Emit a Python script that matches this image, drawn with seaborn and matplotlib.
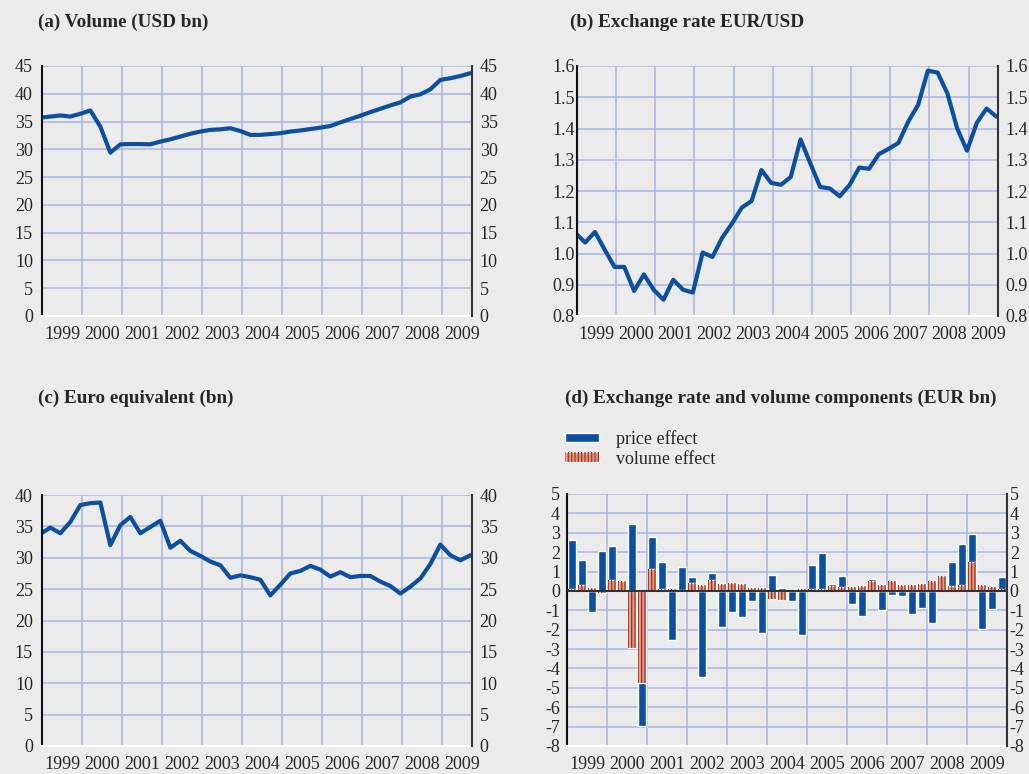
#!/usr/bin/env python3
import numpy as np
import pandas as pd
import seaborn as sns
import matplotlib
matplotlib.use("Agg")
import matplotlib.pyplot as plt
from matplotlib.patches import Patch
from matplotlib.legend_handler import HandlerTuple
from matplotlib.ticker import FixedLocator, FixedFormatter, NullFormatter, FormatStrFormatter

# line panels: one value per quarter (plotted mid of the quarter's last month),
# plus the Dec 1998 value the line starts from
LINE_MONTHS = ["1998-12"] + [f"{y}-{m:02d}" for y in range(1999, 2010) for m in (3, 6, 9, 12)][:43]

VOLUME_USD = [
    35.7, 35.9, 36.1, 35.9, 36.4, 37.0, 34.1, 29.4, 30.9, 30.95, 30.95,
    30.9, 31.4, 31.8, 32.3, 32.8, 33.2, 33.5, 33.6, 33.8, 33.3, 32.6,
    32.6, 32.75, 32.9, 33.2, 33.4, 33.65, 33.9, 34.2, 34.85, 35.45, 36.05,
    36.7, 37.3, 37.9, 38.45, 39.5, 39.9, 40.8, 42.5, 42.8, 43.2, 43.7,
]

EURUSD = [
    1.066, 1.035, 1.069, 1.012, 0.957, 0.957, 0.880, 0.933, 0.884, 0.852, 0.916,
    0.884, 0.875, 1.003, 0.989, 1.051, 1.096, 1.147, 1.168, 1.267, 1.226, 1.220,
    1.245, 1.365, 1.288, 1.213, 1.208, 1.183, 1.219, 1.275, 1.271, 1.318, 1.335,
    1.354, 1.422, 1.475, 1.585, 1.579, 1.512, 1.400, 1.329, 1.418, 1.464, 1.438,
]

EURO_EQUIV = [
    33.8, 34.8, 33.9, 35.7, 38.4, 38.7, 38.8, 32.0, 35.2, 36.5, 33.9,
    34.9, 35.9, 31.6, 32.7, 31.1, 30.3, 29.4, 28.8, 26.8, 27.2, 26.9,
    26.5, 24.0, 25.7, 27.5, 27.9, 28.7, 28.1, 27.0, 27.7, 26.9, 27.1,
    27.1, 26.2, 25.5, 24.3, 25.4, 26.7, 29.0, 32.1, 30.4, 29.6, 30.4,
]

# panel (d): quarterly components, 1999Q1 - 2009Q4
BAR_QUARTERS = pd.period_range("1999Q1", "2009Q4", freq="Q")

PRICE_EFFECT = [
    2.55, 1.29, -1.07, 2.05, 1.77, 0.0, 3.45, -2.25, 1.65, 1.4, -2.53,
    1.2, 0.34, -4.42, 0.36, -1.88, -1.1, -1.33, -0.5, -2.15, 0.84, 0.15,
    -0.5, -2.27, 1.22, 1.86, 0.1, 0.59, -0.67, -1.29, 0.09, -1.0, -0.22,
    -0.28, -1.19, -0.88, -1.65, 0.0, 1.24, 2.1, 1.43, -1.97, -0.92, 0.64,
]

VOLUME_EFFECT = [
    0.1, 0.28, 0.17, -0.1, 0.55, 0.53, -2.93, -4.73, 1.12, 0.1, 0.1,
    0.05, 0.4, 0.3, 0.55, 0.38, 0.43, 0.34, 0.15, 0.15, -0.4, -0.45,
    0.02, 0.1, 0.12, 0.12, 0.26, 0.2, 0.2, 0.26, 0.53, 0.3, 0.53,
    0.3, 0.33, 0.36, 0.5, 0.78, 0.26, 0.33, 1.5, 0.3, 0.2, 0.1,
]

YEARS = list(range(1999, 2010))

BG = "#ebebeb"
GRID = "#a9b4e3"
BLUE = "#0d4f9f"
SALMON = "#da9b87"
HATCH_RED = "#b02c1b"
FS = 13
TITLE_FS = 13.8
W, H = 1029, 774


def month_pos(label):
    p = pd.Period(label, freq="M")
    return p.year + (p.month - 0.5) / 12


def quarter_pos(p):
    return p.year + (p.quarter - 0.5) / 4


def style_axis(ax, x_end, ylim, ystep, fmt, lpad, rpad):
    ax.set_xlim(1999, x_end)
    ax.set_ylim(*ylim)
    majors = list(range(1999, int(np.floor(x_end)) + 1))
    ax.xaxis.set_major_locator(FixedLocator(majors))
    ax.xaxis.set_major_formatter(NullFormatter())
    ax.xaxis.set_minor_locator(FixedLocator([y + 0.5 for y in YEARS]))
    ax.xaxis.set_minor_formatter(FixedFormatter([str(y) for y in YEARS]))
    ax.tick_params(axis="x", which="major", length=5, width=1.3, color="#222222", direction="out")
    ax.tick_params(axis="x", which="minor", length=0, pad=7, labelsize=FS)
    yticks = np.arange(ylim[0], ylim[1] + ystep / 2, ystep)
    ax.set_yticks(yticks)
    ax.yaxis.set_major_formatter(FormatStrFormatter(fmt))
    ax.tick_params(axis="y", length=0, pad=lpad, labelsize=FS)
    ax.grid(True, which="major", color=GRID, linewidth=1.1)
    ax.set_axisbelow(True)
    ax.set_xlabel("")
    ax.set_ylabel("")
    for side in ("top", "right"):
        ax.spines[side].set_visible(False)
    ax.spines["left"].set_color("#111111")
    ax.spines["left"].set_linewidth(1.5)
    ax.spines["bottom"].set_color("white")
    ax.spines["bottom"].set_linewidth(1.5)

    ax2 = ax.twinx()
    ax2.set_ylim(*ylim)
    ax2.set_yticks(yticks)
    ax2.yaxis.set_major_formatter(FormatStrFormatter(fmt))
    ax2.tick_params(axis="y", length=0, pad=rpad, labelsize=FS)
    ax2.grid(False)
    for side in ("top", "left", "bottom"):
        ax2.spines[side].set_visible(False)
    ax2.spines["right"].set_color("#333333")
    ax2.spines["right"].set_linewidth(1.5)


def main():
    sns.set_style("whitegrid", {"axes.facecolor": BG, "figure.facecolor": BG})
    plt.rcParams["font.family"] = ["Liberation Serif", "DejaVu Serif"]
    plt.rcParams["axes.unicode_minus"] = False
    plt.rcParams["hatch.linewidth"] = 0.9

    line_x = [month_pos(m) for m in LINE_MONTHS]
    bar_x = [quarter_pos(q) for q in BAR_QUARTERS]

    fig = plt.figure(figsize=(W / 100, H / 100), dpi=100)
    fig.patch.set_facecolor(BG)

    def frac(left, top, right, bottom):
        return [left / W, 1 - bottom / H, (right - left) / W, (bottom - top) / H]

    ax_a = fig.add_axes(frac(42, 66, 472, 316))
    ax_b = fig.add_axes(frac(577, 66, 998, 316))
    ax_c = fig.add_axes(frac(42, 495, 472, 746))
    ax_d = fig.add_axes(frac(567, 494, 1007, 746))

    sns.lineplot(x=line_x, y=VOLUME_USD, ax=ax_a, color=BLUE, linewidth=3.0)
    style_axis(ax_a, 2009.75, (0, 45), 5, "%d", 6.5, 5.5)

    sns.lineplot(x=line_x, y=EURUSD, ax=ax_b, color=BLUE, linewidth=3.0)
    style_axis(ax_b, 2009.75, (0.8, 1.6), 0.1, "%.1f", 1.5, 5.5)

    sns.lineplot(x=line_x, y=EURO_EQUIV, ax=ax_c, color=BLUE, linewidth=3.0)
    style_axis(ax_c, 2009.75, (0, 40), 5, "%d", 6.5, 5.5)

    # stacked away from zero: volume effect next to the axis, price effect outside it
    price = np.array(PRICE_EFFECT)
    volume = np.array(VOLUME_EFFECT)
    outer = np.where(np.sign(price) == np.sign(volume), price + volume, price)
    bar_kw = dict(orient="x", native_scale=True, width=0.85, saturation=1,
                  errorbar=None, ax=ax_d)
    sns.barplot(x=bar_x, y=outer, color=BLUE, edgecolor="white", linewidth=1.0,
                zorder=2, **bar_kw)
    sns.barplot(x=bar_x, y=volume, color=SALMON, edgecolor="white", linewidth=1.0,
                zorder=3, **bar_kw)
    sns.barplot(x=bar_x, y=volume, color=HATCH_RED, fill=False, hatch="|||||",
                linewidth=0, zorder=4, **bar_kw)
    ax_d.axhline(0, color="#333333", linewidth=1.5, zorder=5)
    style_axis(ax_d, 2010, (-8, 5), 1, "%d", 5, 2)

    titles = [
        (38, 22, "(a) Volume (USD bn)"),
        (570, 22, "(b) Exchange rate EUR/USD"),
        (38, 398, "(c) Euro equivalent (bn)"),
        (565, 398, "(d) Exchange rate and volume components (EUR bn)"),
    ]
    for x, y, text in titles:
        fig.text(x / W, 1 - y / H, text, fontsize=TITLE_FS, fontweight="bold",
                 ha="left", va="center")

    h_price = Patch(facecolor=BLUE, edgecolor="white", linewidth=1)
    h_vol = Patch(facecolor=SALMON, edgecolor="white", linewidth=1)
    h_hatch = Patch(facecolor="none", edgecolor=HATCH_RED, hatch="|||||", linewidth=0)
    fig.legend(
        [h_price, (h_vol, h_hatch)],
        ["price effect", "volume effect"],
        handler_map={tuple: HandlerTuple(ndivide=1, pad=0)},
        loc="upper left",
        bbox_to_anchor=(565 / W, 1 - 430 / H),
        frameon=False,
        fontsize=FS,
        handlelength=1.9,
        handleheight=0.45,
        handletextpad=0.9,
        labelspacing=0.15,
        borderpad=0,
        borderaxespad=0,
    )

    fig.savefig("out.png", dpi=100, facecolor=BG)
    plt.close(fig)


if __name__ == "__main__":
    main()
